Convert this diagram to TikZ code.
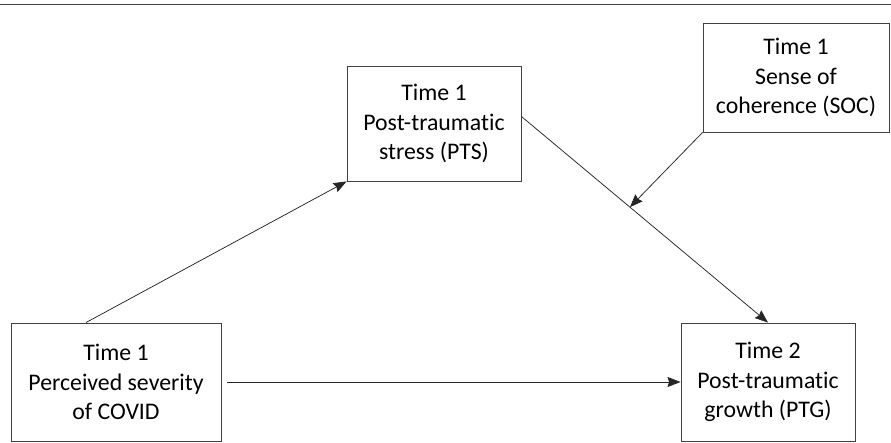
\documentclass[tikz,border=0pt]{standalone}
\usepackage{fontspec}
\setmainfont{Carlito}[Ligatures=NoCommon]
\usepackage{tikz}
\usetikzlibrary{arrows.meta}
\usetikzlibrary{calc}

\begin{document}
\begin{tikzpicture}[x=1pt,y=1pt]
  \tikzset{>={Stealth[length=13pt,width=10pt,inset=1.5pt]}}
  \tikzset{varbox/.style={draw=black!75,line width=0.9pt,align=center,
      inner sep=0pt,font=\fontsize{23.8}{29.5}\selectfont}}
  \tikzset{path/.style={->,line width=0.75pt,black!85}}
  \useasboundingbox (0,0) rectangle (891,443);

  % rule across the top of the figure
  \draw[black!75,line width=1.4pt] (0,438.5) -- (891,438.5);

  % the four variables, placed at coordinates
  \node[varbox,minimum width=174,minimum height=115] (PTS) at (434,319.5)
    {Time 1\\Post-traumatic\\stress (PTS)};
  \node[varbox,minimum width=186,minimum height=109] (SOC) at (796,365.5)
    {Time 1\\Sense of\\coherence (SOC)};
  \node[varbox,minimum width=210,minimum height=118] (COVID) at (116,61)
    {Time 1\\Perceived severity\\of COVID};
  \node[varbox,minimum width=174,minimum height=118] (PTG) at (768,61)
    {Time 2\\Post-traumatic\\growth (PTG)};

  % paths; the moderator points at the PTS -> PTG path
  \draw[path] ([xshift=-30pt]COVID.north) -- (PTS.south west);
  \draw[path] ([yshift=7pt]PTS.east) -- (PTG.north) coordinate[pos=0.44] (M);
  \draw[path,shorten <=6pt] (COVID.east) -- (PTG.west);
  \draw[path] (SOC.south west) -- (M);

\end{tikzpicture}
\end{document}
